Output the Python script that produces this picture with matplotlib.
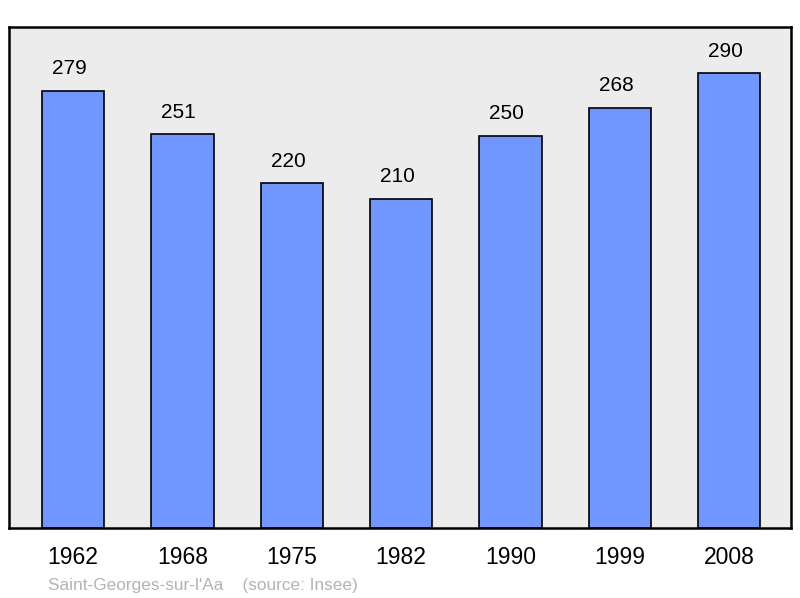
import matplotlib.pyplot as plt

plt.rcParams['font.family'] = ['Liberation Sans', 'DejaVu Sans']

# Data
years = ['1962', '1968', '1975', '1982', '1990', '1999', '2008']
population = [279, 251, 220, 210, 250, 268, 290]

fig = plt.figure(figsize=(8, 5.98), dpi=100)
ax = fig.add_axes([0.01125, 0.117, 0.9775, 0.8378])
ax.set_facecolor('#ececec')

x = list(range(len(years)))
bars = ax.bar(x, population, width=0.57, color='#7096ff', edgecolor='black', linewidth=1.2)

# value labels sit a touch left of bar centre, like the original
for xi, v in zip(x, population):
    ax.text(xi - 0.035, v + 8, str(v), ha='center', va='bottom', fontsize=15)

ax.set_xlim(-0.585, 6.565)
ax.set_ylim(0, 319.5)
ax.set_xticks(x)
ax.set_xticklabels(years, fontsize=16.5)
ax.tick_params(axis='x', length=0, pad=13)
ax.set_yticks([])
for s in ax.spines.values():
    s.set_linewidth(1.8)

fig.text(0.06, 0.021, "Saint-Georges-sur-l'Aa    (source: Insee)", fontsize=12.4,
         color='#b4b4b4', ha='left', va='center')

fig.savefig('out.png', dpi=100)
